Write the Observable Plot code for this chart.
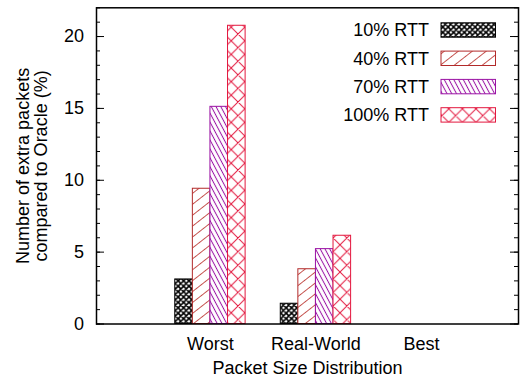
<!DOCTYPE html>
<html>
<head>
<meta charset="utf-8">
<script src="https://cdn.jsdelivr.net/npm/d3@7"></script>
<script src="https://cdn.jsdelivr.net/npm/@observablehq/plot@0.6"></script>
<style>
  html, body { margin: 0; padding: 0; background: #fff; }
  #chart { width: 524px; height: 383px; }
</style>
</head>
<body>
<div id="chart"></div>
<script>
// ---- data ----
const categories = ["Worst", "Real-World", "Best"];
const seriesNames = ["10% RTT", "40% RTT", "70% RTT", "100% RTT"];
const rtt10  = [3.1, 1.41, 0];
const rtt40  = [9.41, 3.81, 0];
const rtt70  = [15.11, 5.21, 0];
const rtt100 = [20.75, 6.14, 0];
const yMajorTicks = [0, 5, 10, 15, 20];
const yMinorTicks = d3.range(0, 23, 1);
const xLabel = "Packet Size Distribution";
const yLabel = "Number of extra packets\ncompared to Oracle (%)";

// ---- styling ----
const seriesColors = ["#000000", "#b22a2a", "#9a12a4", "#e3173e"];
const hatchColors  = ["#000000", "#c4504c", "#9a12a4", "#e3173e"];
const seriesValues = [rtt10, rtt40, rtt70, rtt100];
const nSeries = seriesNames.length;
const barW = 1 / (nSeries + 2);

const rows = [];
seriesValues.forEach((vals, j) => {
  vals.forEach((v, i) => {
    const x1 = i + (j - nSeries / 2) * barW;
    rows.push({series: j, cat: i, x1, x2: x1 + barW, value: v});
  });
});

const W = 524, H = 383;
const mL = 96, mR = 6, mT = 7.3, mB = 59.5;
const plotW = W - mL - mR;

const font = "'Liberation Sans', Arial, Helvetica, sans-serif";

const chart = Plot.plot({
  width: W,
  height: H,
  marginLeft: mL,
  marginRight: mR,
  marginTop: mT,
  marginBottom: mB,
  style: {fontFamily: font, fontSize: "18px", color: "#000", background: "#fff"},
  x: {type: "linear", domain: [-1.08, 2.92]},
  y: {domain: [0, 22]},
  marks: [
    ...seriesValues.map((vals, j) =>
      Plot.rectY(rows.filter(r => r.series === j && r.value > 0), {
        x1: "x1", x2: "x2", y1: 0, y2: "value",
        fill: `url(#pat${j})`,
        stroke: seriesColors[j],
        strokeWidth: 1
      })
    ),
    // inward ticks, left and right
    Plot.tickY(yMinorTicks, {y: d => d, insetRight: plotW - 4, stroke: "#000", strokeWidth: 1}),
    Plot.tickY(yMinorTicks, {y: d => d, insetLeft: plotW - 4, stroke: "#000", strokeWidth: 1}),
    Plot.tickY(yMajorTicks, {y: d => d, insetRight: plotW - 8, stroke: "#000", strokeWidth: 1}),
    Plot.tickY(yMajorTicks, {y: d => d, insetLeft: plotW - 8, stroke: "#000", strokeWidth: 1}),
    Plot.frame({stroke: "#000", strokeWidth: 1.5}),
    Plot.axisY({ticks: yMajorTicks, tickSize: 0, tickPadding: 12.5, label: null, fontSize: 18}),
    Plot.axisX({ticks: [0, 1, 2], tickFormat: i => categories[i], tickSize: 0, tickPadding: 13.7, label: null, fontSize: 18}),
    Plot.text([xLabel], {text: d => d, frameAnchor: "bottom", dy: 50, fontSize: 18}),
    Plot.text([yLabel], {text: d => d, frameAnchor: "left", textAnchor: "middle", lineAnchor: "middle", dx: -64, rotate: -90, fontSize: 18, lineHeight: 1.0})
  ]
});

// ---- patterns ----
const svg = d3.select(chart);
const defs = svg.insert("defs", ":first-child");

function crossPattern(id, size, color, sw) {
  const p = defs.append("pattern").attr("id", id)
    .attr("patternUnits", "userSpaceOnUse")
    .attr("width", size).attr("height", size);
  p.append("rect").attr("width", size).attr("height", size).attr("fill", "#fff");
  const s = size;
  p.append("path")
    .attr("d", `M0,${s} L${s},0 M-1,1 L1,-1 M${s-1},${s+1} L${s+1},${s-1} ` +
               `M0,0 L${s},${s} M-1,${s-1} L1,${s+1} M${s-1},-1 L${s+1},1`)
    .attr("stroke", color).attr("stroke-width", sw).attr("fill", "none");
}
function rotPattern(id, spacing, angle, color, sw) {
  const p = defs.append("pattern").attr("id", id)
    .attr("patternUnits", "userSpaceOnUse")
    .attr("width", spacing).attr("height", 20)
    .attr("patternTransform", `rotate(${angle})`);
  p.append("rect").attr("width", spacing).attr("height", 20).attr("fill", "#fff");
  p.append("line").attr("x1", spacing / 2).attr("x2", spacing / 2).attr("y1", -1).attr("y2", 21)
    .attr("stroke", color).attr("stroke-width", sw);
}
crossPattern("pat0", 5.4, hatchColors[0], 1.6);
rotPattern("pat1", 8.6, 52, hatchColors[1], 1);
rotPattern("pat2", 4.2, -28, hatchColors[2], 1);
crossPattern("pat3", 13.6, hatchColors[3], 1);

// ---- legend ----
const leg = svg.append("g").attr("font-family", font).attr("font-size", 18);
seriesNames.forEach((name, j) => {
  const cy = 30 + 28.3 * j;
  leg.append("text").attr("x", 429).attr("y", cy + 6.3)
    .attr("text-anchor", "end").attr("fill", "#000").text(name);
  leg.append("rect").attr("x", 441).attr("y", cy - 7.2)
    .attr("width", 54.5).attr("height", 14.4)
    .attr("fill", `url(#pat${j})`).attr("stroke", seriesColors[j]).attr("stroke-width", 1);
});

document.getElementById("chart").appendChild(chart);
</script>
</body>
</html>
